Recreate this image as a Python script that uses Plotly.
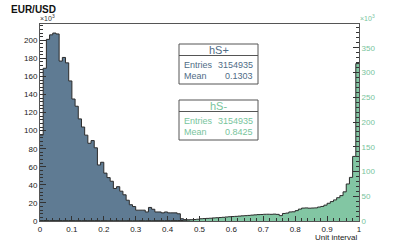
import numpy as np
import plotly.graph_objects as go

# ---------------- data (values in thousands of entries) ----------------
BIN_EDGES = np.linspace(0.0, 1.0, 101)

hs_plus = [
    95, 169, 201, 206, 208, 207, 177, 181, 175, 155,
    135, 127, 113, 104, 95, 86, 89, 81, 62, 65,
    53, 48, 44, 36, 38, 33, 29, 23, 18, 16,
    12, 12, 12, 10, 15, 13, 10, 10, 9, 10,
    9, 9, 9, 8, 2.5, 1.5, 1.2, 1.0, 0.5, 0.3,
    1.8, 0.3, 0.3, 0.2, 0.2, 0.2, 0.2, 0.2, 0.1, 0.1,
    0.1, 0.1, 0.1, 0.1, 0.1, 0.1, 0.1, 0.1, 0.1, 0.1,
    0.1, 0.1, 0.1, 0.1, 0.1, 0.1, 0.1, 0.1, 0.1, 0.1,
    0.1, 0.1, 0.1, 0.1, 0.1, 0.1, 0.1, 0.1, 0.1, 0.1,
    0.1, 0.1, 0.1, 0.1, 0.1, 0.1, 0.1, 0.1, 0.1, 0.1,
]

hs_minus = [
    0.8, 0.9, 0.8, 0.7, 0.8, 0.7, 0.8, 0.7, 0.7, 0.8,
    0.7, 0.6, 0.7, 0.6, 0.7, 0.6, 0.6, 0.7, 0.6, 0.6,
    0.6, 0.5, 0.6, 0.5, 0.6, 0.5, 0.5, 0.6, 0.5, 0.5,
    0.5, 0.6, 0.5, 0.5, 0.6, 0.5, 0.6, 0.6, 0.6, 0.7,
    0.7, 0.7, 0.8, 0.9, 1.0, 1.5, 1.8, 2.4, 3.0, 3.6,
    4.5, 4.9, 5.3, 5.6, 6.2, 6.6, 7.0, 7.5, 8.1, 8.6,
    9.0, 9.4, 9.9, 10.4, 10.8, 11.3, 11.9, 12.4, 12.9, 13.2,
    13.6, 13.7, 13.5, 13.9, 13.4, 10.8, 15.2, 16.0, 18.3, 18.6,
    21.0, 24.0, 26.1, 26.4, 25.9, 26.2, 26.5, 28.2, 29.4, 32.1,
    35.8, 39.2, 42.6, 47.1, 51.3, 58.9, 74.8, 88.1, 130.5, 318.0,
]

x_ticks = [0, 0.1, 0.2, 0.3, 0.4, 0.5, 0.6, 0.7, 0.8, 0.9, 1]
x_tick_text = ["0", "0.1", "0.2", "0.3", "0.4", "0.5", "0.6", "0.7", "0.8", "0.9", "1"]

stats = {
    "hS+": {"entries": "3154935", "mean": "0.1303"},
    "hS-": {"entries": "3154935", "mean": "0.8425"},
}

# ---------------- styling ----------------
W, H = 399, 249
L, R, T, B = 40, 40, 24, 28
PW, PH = W - L - R, H - T - B

BLUE_FILL = "#5f7b93"
BLUE_TEXT = "#4f6c86"
GREEN_FILL = "#82c6a3"
GREEN_TEXT = "#78c49c"
OUTLINE = "#2b2b2b"
FONT = "Liberation Sans, Arial, sans-serif"


def px(x):
    return (x - L) / PW


def py(y):
    return (H - B - y) / PH


def step_xy(vals):
    xs = list(BIN_EDGES[:-1]) + [1.0]
    ys = list(vals) + [vals[-1]]
    return xs, ys


fig = go.Figure()

xb, yb = step_xy(hs_plus)
fig.add_trace(go.Scatter(
    x=xb, y=yb, mode="lines", line=dict(shape="hv", color=OUTLINE, width=1),
    fill="tozeroy", fillcolor=BLUE_FILL, yaxis="y", name="hS+", hoverinfo="skip"))

xg, yg = step_xy(hs_minus)
fig.add_trace(go.Scatter(
    x=xg, y=yg, mode="lines", line=dict(shape="hv", color=OUTLINE, width=1),
    fill="tozeroy", fillcolor=GREEN_FILL, yaxis="y2", name="hS-", hoverinfo="skip"))

tickfont = dict(family=FONT, size=8, color="#222222")

fig.update_layout(
    width=W, height=H,
    margin=dict(l=L, r=R, t=T, b=B, pad=0, autoexpand=False),
    paper_bgcolor="white", plot_bgcolor="white",
    showlegend=False,
    xaxis=dict(
        range=[0, 1], tickvals=x_ticks, ticktext=x_tick_text,
        ticks="inside", ticklen=5, tickcolor="#333", tickwidth=1,
        minor=dict(ticks="inside", dtick=0.02, ticklen=3, tickcolor="#333"),
        showline=True, linecolor="#555", linewidth=1, mirror=True,
        showgrid=False, zeroline=False, tickfont=tickfont, automargin=False,
    ),
    yaxis=dict(
        range=[0, 218], dtick=20, tick0=0,
        ticks="inside", ticklen=6, tickcolor="#333", tickwidth=1,
        minor=dict(ticks="inside", dtick=4, ticklen=3, tickcolor="#333"),
        showline=True, linecolor="#555", linewidth=1,
        showgrid=False, zeroline=False, tickfont=tickfont, automargin=False,
    ),
    yaxis2=dict(
        range=[0, 398], dtick=50, tick0=0, overlaying="y", side="right",
        ticks="inside", ticklen=6, tickcolor="#333", tickwidth=1,
        minor=dict(ticks="inside", dtick=10, ticklen=3, tickcolor="#333"),
        showline=True, linecolor="#555", linewidth=1,
        showgrid=False, zeroline=False, automargin=False,
        tickfont=dict(family=FONT, size=8, color=GREEN_TEXT),
    ),
)

ann = []
ann.append(dict(text="<b>EUR/USD</b>", x=px(9), y=py(9), xref="paper", yref="paper",
                xanchor="left", yanchor="middle", showarrow=False,
                font=dict(family=FONT, size=10, color="#111")))
ann.append(dict(text="×10<sup>3</sup>", x=px(38), y=py(18), xref="paper", yref="paper",
                xanchor="left", yanchor="middle", showarrow=False,
                font=dict(family=FONT, size=7, color="#333")))
ann.append(dict(text="×10<sup>3</sup>", x=px(358), y=py(18), xref="paper", yref="paper",
                xanchor="left", yanchor="middle", showarrow=False,
                font=dict(family=FONT, size=7, color=GREEN_TEXT)))
ann.append(dict(text="Unit interval", x=px(359), y=py(238), xref="paper", yref="paper",
                xanchor="right", yanchor="middle", showarrow=False,
                font=dict(family=FONT, size=8, color="#222222")))

shapes = []
boxes = [("hS+", 44, BLUE_TEXT), ("hS-", 100, GREEN_TEXT)]
bx0, bx1 = 179, 258
for name, top, col in boxes:
    shapes.append(dict(type="rect", xref="paper", yref="paper",
                       x0=px(bx0), x1=px(bx1), y0=py(top), y1=py(top + 40),
                       line=dict(color="#555", width=1), fillcolor="white", layer="above"))
    shapes.append(dict(type="line", xref="paper", yref="paper",
                       x0=px(bx0), x1=px(bx1), y0=py(top + 11.5), y1=py(top + 11.5),
                       line=dict(color="#555", width=1), layer="above"))
    ann.append(dict(text=name, x=px((bx0 + bx1) / 2), y=py(top + 6), xref="paper", yref="paper",
                    xanchor="center", yanchor="middle", showarrow=False,
                    font=dict(family=FONT, size=11, color=col)))
    rows = [("Entries", stats[name]["entries"], top + 20.5),
            ("Mean", stats[name]["mean"], top + 32)]
    for lab, val, yy in rows:
        ann.append(dict(text=lab, x=px(bx0 + 3), y=py(yy), xref="paper", yref="paper",
                        xanchor="left", yanchor="middle", showarrow=False,
                        font=dict(family=FONT, size=9, color=col)))
        ann.append(dict(text=val, x=px(bx1 - 3), y=py(yy), xref="paper", yref="paper",
                        xanchor="right", yanchor="middle", showarrow=False,
                        font=dict(family=FONT, size=9, color=col)))

fig.update_layout(annotations=ann, shapes=shapes)
fig.write_html("out.html", config={"displayModeBar": False},
               post_script="document.body.style.margin='0px';")
